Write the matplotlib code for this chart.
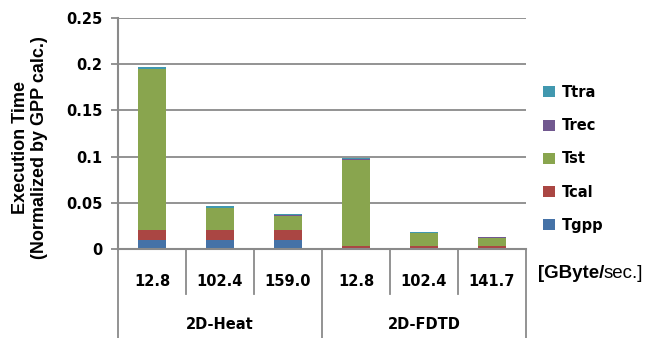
import matplotlib.pyplot as plt
import numpy as np

plt.rcParams["font.family"] = ["DejaVu Sans"]

groups = ["2D-Heat", "2D-FDTD"]
bandwidth = ["12.8", "102.4", "159.0", "12.8", "102.4", "141.7"]
series = ["Tgpp", "Tcal", "Tst", "Trec", "Ttra"]
colors = ["#4572A7", "#AA4643", "#89A54E", "#71588F", "#4198AF"]

tgpp = [0.010, 0.010, 0.010, 0.0008, 0.0008, 0.0008]
tcal = [0.011, 0.011, 0.011, 0.0025, 0.0025, 0.0025]
tst = [0.174, 0.023, 0.015, 0.0935, 0.0135, 0.0090]
trec = [0.0003, 0.0003, 0.0003, 0.0002, 0.0002, 0.0002]
ttra = [0.0017, 0.0017, 0.0017, 0.0020, 0.0010, 0.0010]

values = [tgpp, tcal, tst, trec, ttra]
grid_col = "#8a8a8a"


def main():
    fig = plt.figure(figsize=(6.51, 3.38), dpi=100)
    ax = fig.add_axes([118 / 651, 89 / 338, 408 / 651, 231 / 338])

    x = np.arange(len(bandwidth))
    bottom = np.zeros(len(bandwidth))
    handles = []
    for name, vals, col in zip(series, values, colors):
        b = ax.bar(x, vals, 0.4, bottom=bottom, color=col, label=name)
        handles.append(b)
        bottom += np.array(vals)

    ax.set_xlim(-0.5, len(bandwidth) - 0.5)
    ax.set_ylim(0, 0.25)
    ax.set_yticks([0, 0.05, 0.1, 0.15, 0.2, 0.25])
    ax.set_yticklabels(["0", "0.05", "0.1", "0.15", "0.2", "0.25"])
    ax.yaxis.grid(True, color=grid_col, linewidth=1.3)
    ax.set_axisbelow(True)
    ax.tick_params(axis="y", length=5, width=1.3, color=grid_col, labelsize=10.5, pad=6)
    for lab in ax.get_yticklabels():
        lab.set_fontweight("bold")
    ax.set_xticks([])

    for s in ["top", "right", "bottom"]:
        ax.spines[s].set_visible(False)
    ax.spines["left"].set_color(grid_col)
    ax.spines["left"].set_linewidth(1.5)

    # category table below the axis
    tr = ax.get_xaxis_transform()
    ax.plot([-0.5, 5.5], [0, 0], color=grid_col, lw=1.5, transform=tr, clip_on=False)
    for xi in [0.5, 1.5, 3.5, 4.5]:
        ax.plot([xi, xi], [0, -0.195], color=grid_col, lw=1.3, transform=tr, clip_on=False)
    for xi in [-0.5, 2.5, 5.5]:
        ax.plot([xi, xi], [0, -0.39], color=grid_col, lw=1.3, transform=tr, clip_on=False)
    for xi, lab in zip(x, bandwidth):
        ax.text(xi, -0.14, lab, transform=tr, ha="center", va="center",
                fontsize=10.5, fontweight="bold")
    for gi, g in enumerate(groups):
        ax.text(1 + 3 * gi, -0.325, g, transform=tr, ha="center", va="center",
                fontsize=10.5, fontweight="bold")

    fig.text(538 / 651, 1 - 273 / 338, "[GByte/", ha="left", va="center",
             fontsize=13.5, fontweight="bold", family="Liberation Sans")
    fig.text(604 / 651, 1 - 273 / 338, "sec.]", ha="left", va="center",
             fontsize=13.5, family="Liberation Sans")

    fig.text(30 / 651, 1 - 148 / 338, "Execution Time\n(Normalized by GPP calc.)",
             rotation=90, ha="center", va="center", fontsize=13, fontweight="bold",
             family="Liberation Sans", linespacing=1.1)

    ax.legend(handles[::-1], series[::-1], loc="center left",
              bbox_to_anchor=(1.01, 0.39), frameon=False,
              handlelength=0.8, handleheight=0.8, labelspacing=1.25,
              handletextpad=0.5, prop={"weight": "bold", "size": 10.5})

    fig.savefig("out.png", dpi=100)


if __name__ == "__main__":
    main()
